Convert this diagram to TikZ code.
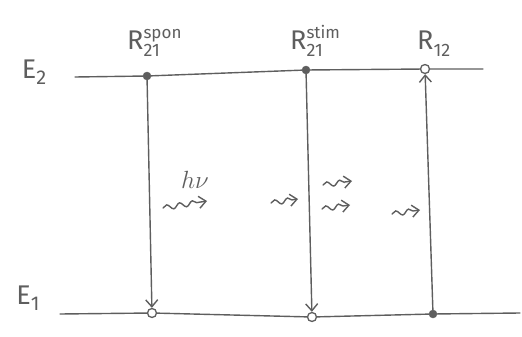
\documentclass[tikz,border=0pt]{standalone}
\usepackage{fontspec}
\setmainfont{Fira Sans}
\usetikzlibrary{arrows.meta,decorations.pathmorphing}
\definecolor{pencil}{HTML}{5E5E5E}
% rate symbol: R with a raised upper index and a lowered lower index
\newcommand{\ratesym}[2]{R\rlap{\raisebox{11pt}{\fontsize{17}{19}\selectfont #1}}\raisebox{-6pt}{\fontsize{18}{20}\selectfont #2}}
\tikzset{
  pen/.style={draw=pencil, line width=1.4pt, line cap=round},
  full/.style={circle, fill=pencil, draw=pencil, inner sep=0pt, minimum size=8pt},
  hollow/.style={circle, fill=white, draw=pencil, line width=1.3pt, inner sep=0pt, minimum size=9pt},
  lbl/.style={text=pencil, inner sep=0pt, font=\fontsize{27}{30}\selectfont},
  tip/.style={-{Straight Barb[length=7pt,width=12pt,line width=1.4pt]}},
  photon/.style={pen, tip, decorate, decoration={snake, segment length=13pt, amplitude=2.5pt, post length=5pt}},
}
\begin{document}
\begin{tikzpicture}[x=1pt, y=-1pt]
\useasboundingbox (0,0) rectangle (522,337);

% upper level E2
\coordinate (e2l) at (75,77);
\coordinate (e2r) at (483,69);
\node[full]   (a2) at (147,76) {};
\node[full]   (b2) at (306,70) {};
\node[hollow] (c2) at (425,69) {};
\draw[pen] (e2l) -- (a2) -- (b2) -- (c2) -- (e2r);

% lower level E1
\coordinate (e1l) at (60,314);
\coordinate (e1r) at (520,313);
\node[hollow] (a1) at (152,313) {};
\node[hollow] (b1) at (312,317) {};
\node[full]   (c1) at (433,314) {};
\draw[pen] (e1l) -- (a1) -- (b1) -- (c1) -- (e1r);

% transitions
\draw[pen, tip] (a2) -- (a1);
\draw[pen, tip] (b2) -- (b1);
\draw[pen, tip] (c1) -- (c2);

% level and rate labels
\node[lbl] (E2) at (34,72) {E\raisebox{-6pt}{\fontsize{20}{22}\selectfont 2}};
\node[lbl] (E1) at (28,298) {E\raisebox{-6pt}{\fontsize{20}{22}\selectfont 1}};
\node[lbl, anchor=base west] (Rsp) at (127,50) {\ratesym{spon}{21}};
\node[lbl, anchor=base west] (Rst) at (290,50) {\ratesym{stim}{21}};
\node[lbl, anchor=base west] (R12) at (417,50) {\ratesym{}{12}};
\node[lbl] (hv) at (195,180) {$h\nu$};

% photons
\coordinate (p1s) at (163,208); \coordinate (p1e) at (207,201);
\coordinate (p2s) at (271,203); \coordinate (p2e) at (298,199);
\coordinate (p3s) at (323,185); \coordinate (p3e) at (352,181);
\coordinate (p4s) at (322,209); \coordinate (p4e) at (350,205);
\coordinate (p5s) at (392,214); \coordinate (p5e) at (420,210);
\draw[photon] (p1s) -- (p1e);
\draw[photon] (p2s) -- (p2e);
\draw[photon] (p3s) -- (p3e);
\draw[photon] (p4s) -- (p4e);
\draw[photon] (p5s) -- (p5e);
\end{tikzpicture}
\end{document}
